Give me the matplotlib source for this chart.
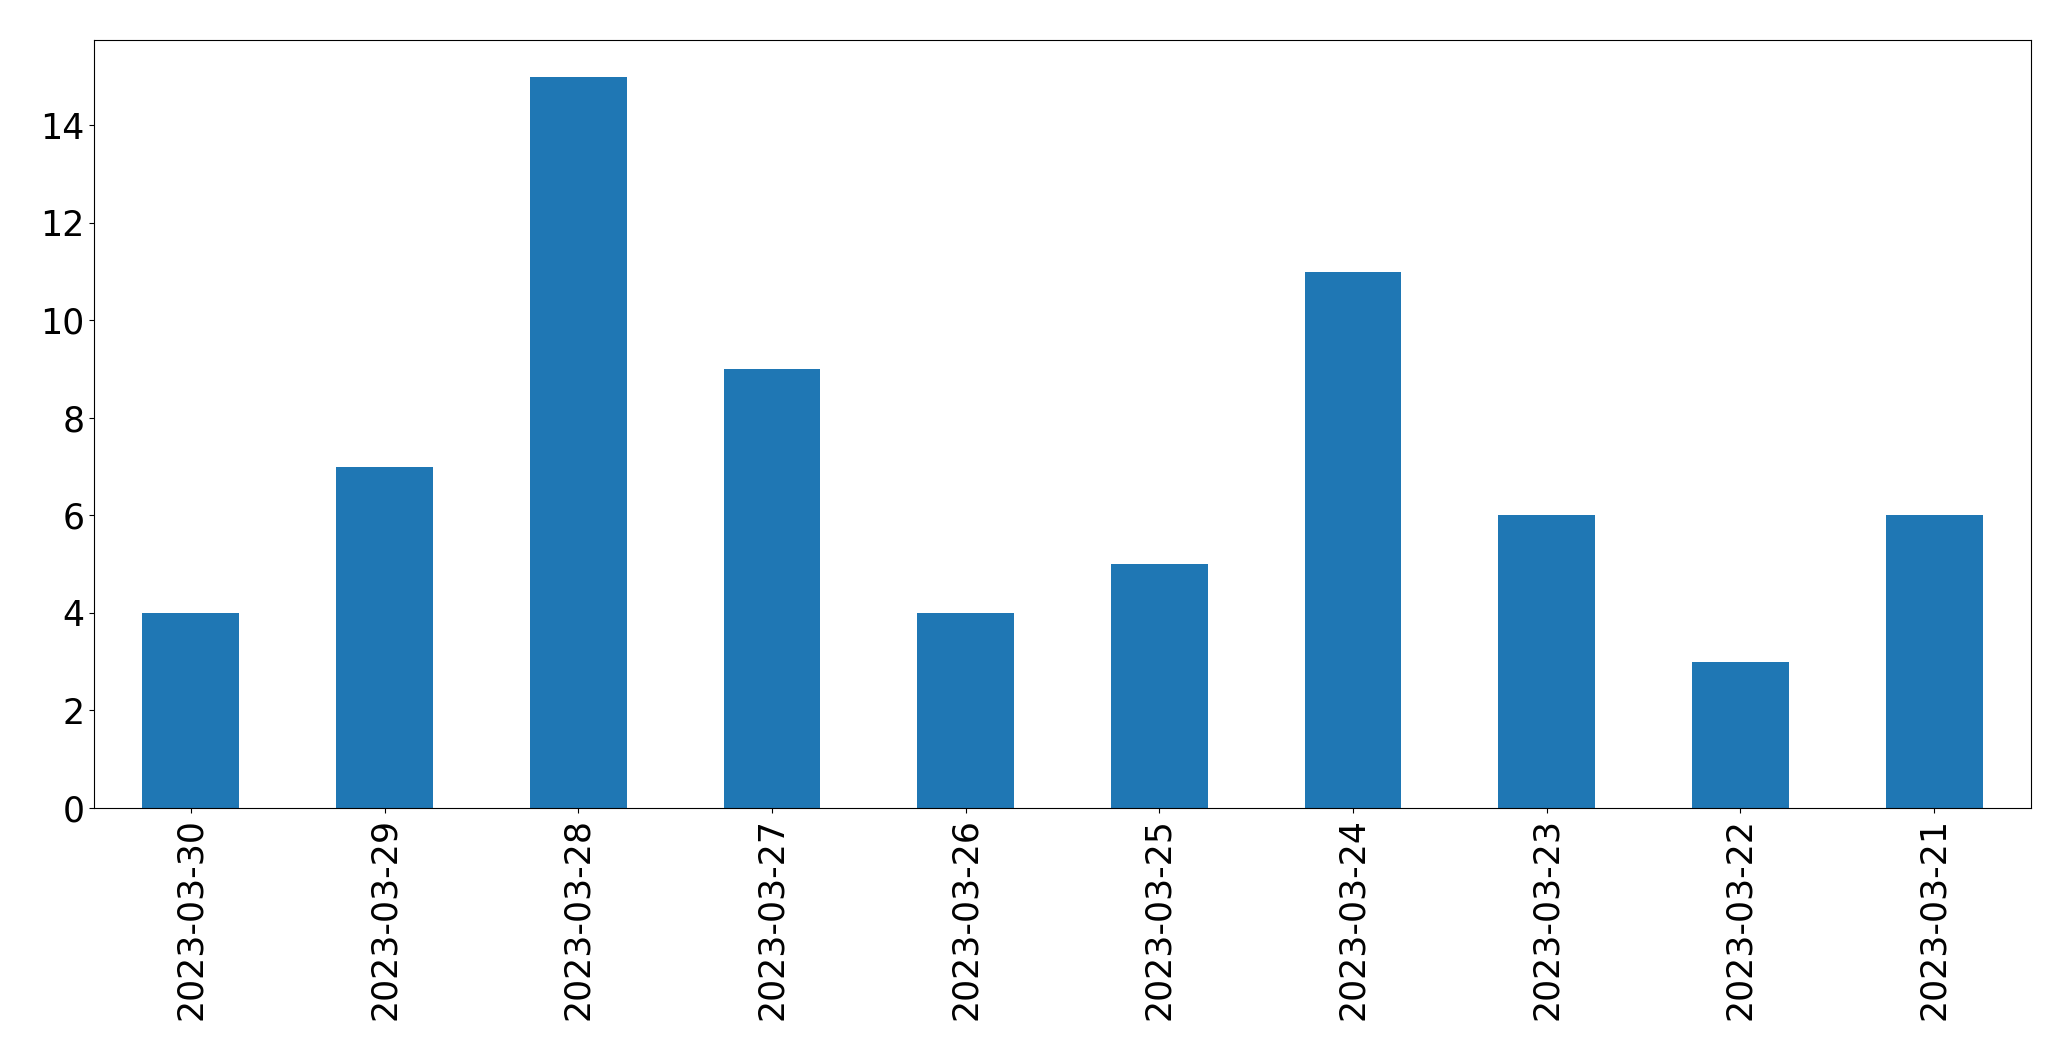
import matplotlib
matplotlib.use("Agg")
import matplotlib.pyplot as plt
import pandas as pd

dates = ["2023-03-30", "2023-03-29", "2023-03-28", "2023-03-27", "2023-03-26",
         "2023-03-25", "2023-03-24", "2023-03-23", "2023-03-22", "2023-03-21"]
counts = [4, 7, 15, 9, 4, 5, 11, 6, 3, 6]

s = pd.Series(counts, index=dates)

fig = plt.figure(figsize=(20.71, 10.61), dpi=100)
ax = fig.add_axes([94 / 2071, 1 - 808 / 1061, (2031 - 94) / 2071, (808 - 40) / 1061])
s.plot(kind="bar", ax=ax, color="#1f77b4", fontsize=25)
ax.tick_params(axis="x", labelrotation=90)

fig.savefig("out.png", dpi=100)
